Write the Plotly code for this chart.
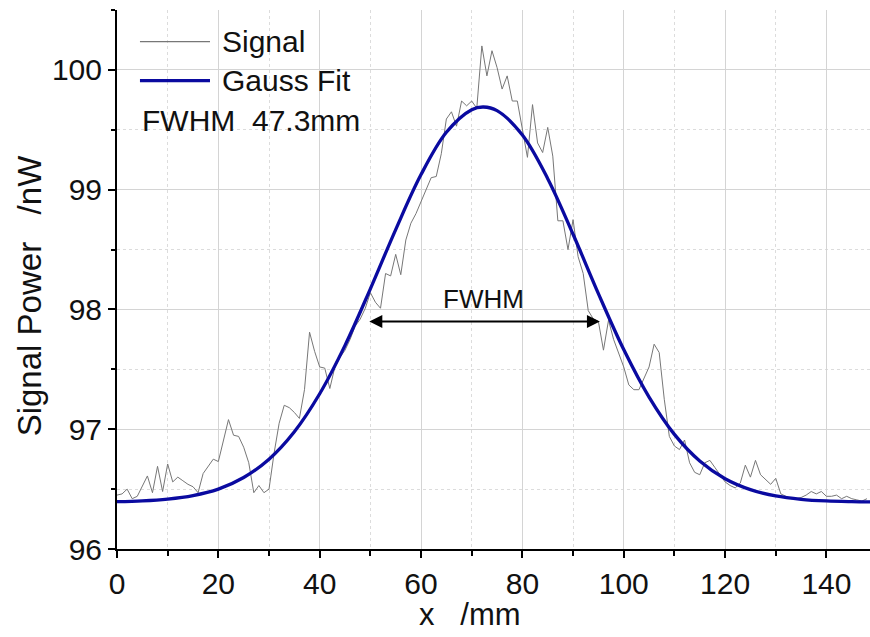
import plotly.graph_objects as go

# ---- data ----
signal_x = list(range(0, 149))
signal_y = [
    96.45, 96.46, 96.50, 96.42, 96.44, 96.52, 96.61, 96.47, 96.69, 96.48,
    96.71, 96.56, 96.60, 96.57, 96.54, 96.52, 96.47, 96.63, 96.69, 96.75,
    96.73, 96.90, 97.08, 96.95, 96.94, 96.85, 96.72, 96.47, 96.53, 96.47,
    96.50, 96.80, 97.05, 97.20, 97.18, 97.14, 97.09, 97.33, 97.81, 97.65,
    97.52, 97.51, 97.34, 97.52, 97.60, 97.66, 97.75, 97.86, 97.92, 98.01,
    98.14, 98.06, 98.01, 98.30, 98.28, 98.46, 98.29, 98.58, 98.72, 98.80,
    98.90, 99.00, 99.10, 99.11, 99.30, 99.59, 99.65, 99.53, 99.74, 99.70,
    99.74, 99.68, 100.20, 99.95, 100.16, 100.02, 99.84, 99.95, 99.74, 99.74,
    99.50, 99.27, 99.71, 99.39, 99.31, 99.52, 99.28, 98.74, 98.74, 98.50,
    98.75, 98.44, 98.30, 97.99, 97.92, 97.90, 97.66, 97.91, 97.75, 97.64,
    97.52, 97.37, 97.33, 97.33, 97.42, 97.52, 97.71, 97.64, 97.25, 96.94,
    96.86, 96.83, 96.91, 96.72, 96.64, 96.62, 96.72, 96.74, 96.68, 96.62,
    96.56, 96.53, 96.51, 96.55, 96.70, 96.60, 96.74, 96.62, 96.58, 96.54,
    96.59, 96.46, 96.44, 96.42, 96.42, 96.43, 96.45, 96.48, 96.46, 96.48,
    96.44, 96.44, 96.45, 96.42, 96.44, 96.42, 96.41, 96.40, 96.42,
]

fit_x = [0, 5, 10, 15, 20, 25, 30, 35, 40, 45, 50, 55, 60, 65, 70, 72.3,
         75, 80, 85, 90, 95, 100, 105, 110, 115, 120, 125, 130, 135, 140, 145, 150]
fit_y = [96.395, 96.402, 96.417, 96.446, 96.500, 96.597, 96.750, 96.979,
         97.296, 97.700, 98.172, 98.667, 99.126, 99.479, 99.668, 99.690,
         99.660, 99.456, 99.092, 98.628, 98.132, 97.665, 97.268, 96.957,
         96.735, 96.587, 96.496, 96.443, 96.415, 96.401, 96.395, 96.392]

fwhm_arrow_x = [49.5, 95.3]
fwhm_arrow_y = 97.9
fwhm_label_y = 98.09
fwhm_text = "FWHM  47.3mm"

x_ticks = [0, 20, 40, 60, 80, 100, 120, 140]
y_ticks = [96, 97, 98, 99, 100]

FONT = "Arial, Liberation Sans, sans-serif"
GRID = "#d4d4d4"
MINOR_GRID = "#dcdcdc"
FIT_COLOR = "#0a0aa0"
SIG_COLOR = "#777777"

fig = go.Figure()
fig.add_trace(go.Scatter(x=signal_x, y=signal_y, mode="lines",
                         line=dict(color=SIG_COLOR, width=1), name="Signal",
                         showlegend=False))
fig.add_trace(go.Scatter(x=fit_x, y=fit_y, mode="lines",
                         line=dict(color=FIT_COLOR, width=3.3, shape="spline", smoothing=1.0),
                         name="Gauss Fit", showlegend=False))

# FWHM arrow
fig.add_annotation(x=fwhm_arrow_x[1], y=fwhm_arrow_y, ax=fwhm_arrow_x[0], ay=fwhm_arrow_y,
                   xref="x", yref="y", axref="x", ayref="y", text="",
                   showarrow=True, arrowhead=2, arrowside="end+start",
                   arrowsize=1.3, arrowwidth=2, arrowcolor="black", standoff=0, startstandoff=0)
fig.add_annotation(x=sum(fwhm_arrow_x) / 2, y=fwhm_label_y, xref="x", yref="y",
                   text="FWHM", showarrow=False, font=dict(family=FONT, size=26, color="#111"),
                   yanchor="middle")

# manual legend (paper coords)
leg_items = [("Signal", SIG_COLOR, 1.2, 0.9412), ("Gauss Fit", FIT_COLOR, 3.3, 0.8688)]
for name, col, w, yy in leg_items:
    fig.add_shape(type="line", xref="paper", yref="paper", x0=0.0305, x1=0.1235,
                  y0=yy, y1=yy, line=dict(color=col, width=w))
    fig.add_annotation(xref="paper", yref="paper", x=0.1368, y=yy, text=name,
                       showarrow=False, xanchor="left", yanchor="middle",
                       font=dict(family=FONT, size=30, color="#111"))
fig.add_annotation(xref="paper", yref="paper", x=0.0305, y=0.795, text=fwhm_text,
                   showarrow=False, xanchor="left", yanchor="middle",
                   font=dict(family=FONT, size=30, color="#111"))

# axis titles
fig.add_annotation(xref="paper", yref="paper", x=0.469, y=-0.158, text="x   /mm",
                   showarrow=False, xanchor="center", yanchor="bottom",
                   font=dict(family=FONT, size=31, color="#111"))
fig.add_annotation(xref="paper", yref="paper", x=-0.116, y=0.47, text="Signal Power   /nW",
                   showarrow=False, xanchor="center", yanchor="middle", textangle=-90,
                   font=dict(family=FONT, size=33, color="#111"))

axis_common = dict(showline=True, linecolor="black", linewidth=2, zeroline=False)

fig.update_layout(
    width=870, height=637,
    margin=dict(l=117, r=0, t=10, b=88),
    paper_bgcolor="white", plot_bgcolor="white",
    font=dict(family=FONT, color="#111"),
    xaxis=dict(range=[0, 148.6], tickvals=x_ticks, ticks="outside", ticklen=7,
               tickwidth=2, tickcolor="black", showgrid=True, gridcolor=GRID, gridwidth=1,
               tickfont=dict(size=30), ticklabelstandoff=0,
               minor=dict(dtick=10, tick0=0, ticks="outside", ticklen=5, tickwidth=2,
                          tickcolor="black", showgrid=True, gridcolor=MINOR_GRID,
                          griddash="dot", gridwidth=1),
               **axis_common),
    yaxis=dict(range=[96, 100.5], tickvals=y_ticks, ticks="outside", ticklen=7,
               tickwidth=2, tickcolor="black", showgrid=True, gridcolor=GRID, gridwidth=1,
               tickfont=dict(size=30),
               minor=dict(dtick=0.5, tick0=96, ticks="outside", ticklen=4, tickwidth=2,
                          tickcolor="black", showgrid=True, gridcolor=MINOR_GRID,
                          griddash="dot", gridwidth=1),
               **axis_common),
    xaxis2=dict(overlaying="x", matches="x", side="top", anchor="y", range=[0, 148.6],
                tickvals=x_ticks, ticks="inside", ticklen=8, tickwidth=2, tickcolor="black",
                showticklabels=False, showgrid=False,
                minor=dict(dtick=10, tick0=0, ticks="inside", ticklen=5, tickwidth=2,
                           tickcolor="black", showgrid=False),
                **axis_common),
    yaxis2=dict(overlaying="y", matches="y", side="right", anchor="x", range=[96, 100.5],
                tickvals=y_ticks, ticks="inside", ticklen=4, tickwidth=2, tickcolor="black",
                showticklabels=False, showgrid=False, showline=False, zeroline=False),
)

fig.write_html("out.html")
